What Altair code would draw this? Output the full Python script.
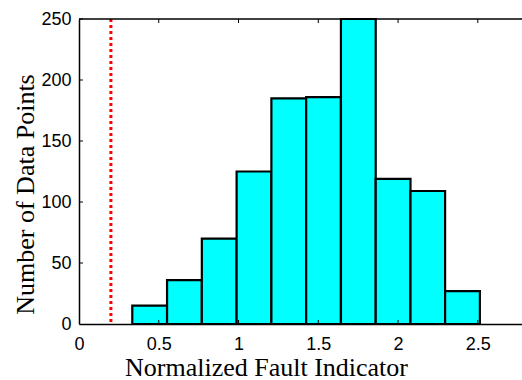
import altair as alt
import pandas as pd

# Histogram bins
bin_left = [0.334, 0.552, 0.770, 0.988, 1.206, 1.424, 1.642, 1.860, 2.078, 2.295]
bin_right = [0.552, 0.770, 0.988, 1.206, 1.424, 1.642, 1.860, 2.078, 2.295, 2.513]
counts = [15, 36, 70, 125, 185, 186, 250, 119, 109, 27]
threshold = [0.2]
x_ticks = [0, 0.5, 1, 1.5, 2, 2.5]
y_ticks = [0, 50, 100, 150, 200, 250]

W, H = 443, 305
xs = alt.Scale(domain=[0, 2.777], nice=False, zero=False)
ys = alt.Scale(domain=[0, 250], nice=False)

bars_df = pd.DataFrame({"left": bin_left, "right": bin_right, "count": counts})
thr_df = pd.DataFrame({"t": threshold})
xt_df = pd.DataFrame({"t": x_ticks[1:]})
yt_df = pd.DataFrame({"t": y_ticks[1:]})

x_axis = alt.Axis(
    values=x_ticks, format="~g", title="Normalized Fault Indicator",
    labelFont="Liberation Sans", labelFontSize=18, labelColor="black",
    labelPadding=11, labelFlush=False, ticks=False, tickSize=0,
    domainColor="black", domainWidth=1.5, grid=False,
    titleFont="Liberation Serif", titleFontSize=26, titleFontWeight="normal",
    titleColor="black", titleX=187, titleY=51, titleBaseline="alphabetic",
    titleAlign="center",
)
y_axis = alt.Axis(
    values=y_ticks, format="d", title="Number of Data Points",
    labelFont="Liberation Sans", labelFontSize=18, labelColor="black",
    labelPadding=8, labelFlush=False, ticks=False, tickSize=0,
    domainColor="black", domainWidth=1.5, grid=False,
    titleFont="Liberation Serif", titleFontSize=26, titleFontWeight="normal",
    titleColor="black", titleAngle=-90, titleX=-46, titleY=175,
    titleBaseline="alphabetic", titleAlign="center",
)

bars = alt.Chart(bars_df).mark_rect(fill="#00ffff", stroke="black", strokeWidth=2.2).encode(
    x=alt.X("left:Q", scale=xs, axis=x_axis, title="Normalized Fault Indicator"),
    x2="right:Q",
    y=alt.Y("count:Q", scale=ys, axis=y_axis, title="Number of Data Points"),
    y2=alt.datum(0),
)

thr = alt.Chart(thr_df).mark_rule(color="#ff0000", strokeWidth=3, strokeDash=[3, 3]).encode(
    x=alt.X("t:Q", scale=xs, axis=x_axis, title="Normalized Fault Indicator"),
    y=alt.Y(datum=250, scale=ys, axis=y_axis, title="Number of Data Points"),
    y2=alt.datum(0),
)

tick_bottom = alt.Chart(xt_df).mark_rule(color="black", strokeWidth=1).encode(
    x=alt.X("t:Q", scale=xs, axis=x_axis, title="Normalized Fault Indicator"),
    y=alt.value(H), y2=alt.value(H - 4),
)
tick_top = alt.Chart(xt_df).mark_rule(color="black", strokeWidth=1).encode(
    x=alt.X("t:Q", scale=xs, axis=x_axis, title="Normalized Fault Indicator"),
    y=alt.value(0), y2=alt.value(4),
)
tick_left = alt.Chart(yt_df).mark_rule(color="black", strokeWidth=1).encode(
    y=alt.Y("t:Q", scale=ys, axis=y_axis, title="Number of Data Points"),
    x=alt.value(0), x2=alt.value(4),
)
top_border = alt.Chart(thr_df).mark_rule(color="black", strokeWidth=1.5).encode(
    x=alt.value(0), x2=alt.value(W), y=alt.value(0)
)

chart = alt.layer(bars, thr, tick_bottom, tick_top, tick_left, top_border).properties(
    width=W, height=H,
    autosize=alt.AutoSizeParams(type="none"),
    padding={"left": 79, "top": 19, "right": 0, "bottom": 56},
    background="white",
).configure_view(stroke=None)

chart.save("out.html", embed_options={"renderer": "svg", "actions": False})
